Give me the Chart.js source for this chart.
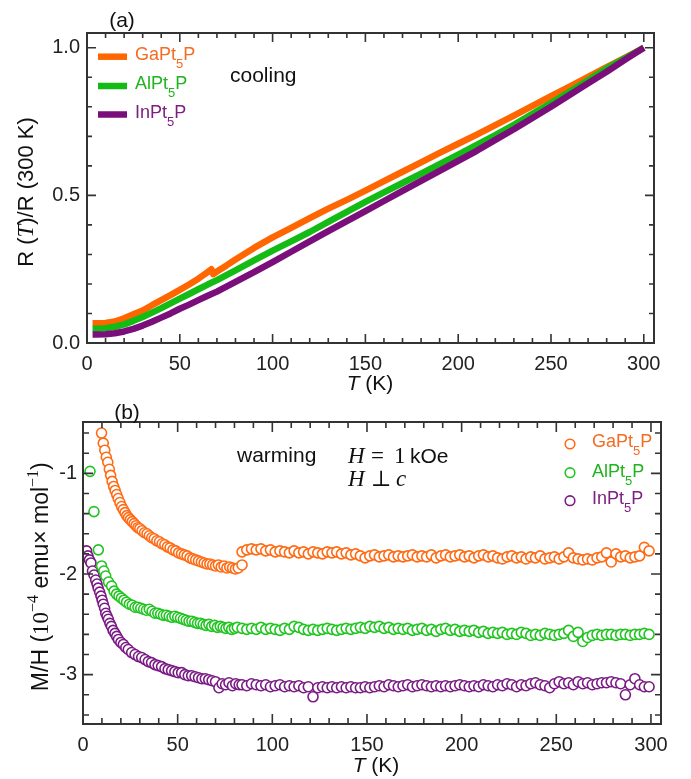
<!DOCTYPE html>
<html>
<head>
<meta charset="utf-8">
<title>R(T) and M/H of XPt5P</title>
<script src="https://cdn.jsdelivr.net/npm/chart.js@4.4.0/dist/chart.umd.min.js"></script>
<style>
  html, body { margin: 0; padding: 0; background: #fff; }
  #wrap { position: relative; width: 691px; height: 779px; overflow: hidden; }
  canvas { position: absolute; left: 0; }
  #resChart { top: 0; }
  #magChart { top: 398px; }
</style>
</head>
<body>
<div id="wrap">
  <canvas id="resChart" width="691" height="398"></canvas>
  <canvas id="magChart" width="691" height="381"></canvas>
</div>
<script>
// ==========================
// FONTS & COLOURS
// ==========================
const SANS = '"Liberation Sans", Arial, Helvetica, sans-serif';
const SERIF = '"Liberation Serif", "Times New Roman", serif';
const AXIS = "#333";

const names = ["GaPt", "AlPt", "InPt"];
const lineColors = ["#ff6600", "#14bb14", "#7a0e7a"];
const textColors = ["#f36c21", "#1db41d", "#7d1f80"];
const dotColors = ["#ff6a13", "#22c422", "#7a1a85"];

// ==========================
// PANEL (a) DATA : R(T)/R(300 K), cooling
// ==========================
const gaResT = [3, 5, 10, 15, 20, 25, 30, 35, 40, 45, 50, 55, 60, 65, 67, 68, 70, 75, 80,
  90, 100, 110, 120, 130, 140, 150, 160, 170, 180, 190, 200, 210, 220, 230, 240, 250, 260, 270, 280, 290, 300];
const gaRes = [0.067, 0.067, 0.068, 0.073, 0.084, 0.097, 0.11, 0.128, 0.145, 0.162, 0.18, 0.198, 0.218, 0.24, 0.25, 0.233, 0.242, 0.262, 0.283,
  0.322, 0.358, 0.39, 0.423, 0.455, 0.485, 0.516, 0.548, 0.58, 0.612, 0.644, 0.675, 0.706, 0.738, 0.77, 0.803, 0.836, 0.868, 0.901, 0.934, 0.967, 1.0];

const resT = [3, 5, 10, 15, 20, 25, 30, 35, 40, 45, 50, 55, 60, 65, 70,
  80, 90, 100, 110, 120, 130, 140, 150, 160, 170, 180, 190, 200, 210, 220, 230, 240, 250, 260, 270, 280, 290, 300];
const alRes = [0.048, 0.048, 0.05, 0.055, 0.063, 0.075, 0.088, 0.103, 0.118, 0.134, 0.15, 0.166, 0.182, 0.198, 0.213,
  0.246, 0.28, 0.313, 0.344, 0.376, 0.41, 0.444, 0.478, 0.51, 0.542, 0.574, 0.606, 0.638, 0.671, 0.704, 0.739, 0.776, 0.813, 0.851, 0.89, 0.93, 0.965, 1.0];
const inRes = [0.029, 0.029, 0.03, 0.033, 0.039, 0.048, 0.059, 0.072, 0.086, 0.1, 0.116, 0.13, 0.145, 0.16, 0.174,
  0.207, 0.24, 0.274, 0.309, 0.344, 0.379, 0.413, 0.447, 0.481, 0.515, 0.549, 0.583, 0.617, 0.651, 0.688, 0.724, 0.762, 0.8, 0.84, 0.88, 0.919, 0.96, 1.0];

const resXTicks = [0, 50, 100, 150, 200, 250, 300];
const resYTicks = [0, 0.5, 1.0];

// ==========================
// PANEL (b) DATA : M/H (1e-4 emu/mol), warming, H = 1 kOe
// ==========================
const gaLowT = [9.8, 10.7, 11.5, 12.3, 13.1, 13.9, 14.6, 15.4, 16.2, 17, 17.8, 18.6, 19.5, 20.4, 21.3, 22.2, 23.1, 24, 25, 26,
  27, 28, 29, 30, 31.2, 32.5, 33.8, 35, 36.3, 37.6, 39, 40.4, 41.8, 43.2, 44.6, 46, 47.5, 49, 50.5, 52,
  53.5, 55, 56.5, 58, 59.5, 61, 62.5, 64, 65.5, 67, 68.5, 70, 71.5, 73, 74.5, 76, 77.5, 79, 80.5, 82, 84];
const gaLowM = [-0.60, -0.70, -0.77, -0.84, -0.89, -0.96, -1.02, -1.08, -1.13, -1.17, -1.21, -1.25, -1.29, -1.33, -1.36, -1.39, -1.42, -1.44, -1.46, -1.48,
  -1.50, -1.52, -1.54, -1.55, -1.57, -1.59, -1.60, -1.62, -1.64, -1.65, -1.67, -1.68, -1.70, -1.71, -1.73, -1.74, -1.76, -1.77, -1.79, -1.80,
  -1.81, -1.82, -1.84, -1.85, -1.86, -1.87, -1.88, -1.89, -1.90, -1.90, -1.91, -1.92, -1.91, -1.93, -1.92, -1.94, -1.93, -1.94, -1.95, -1.94, -1.91];

const alLowT = [3.7, 5.8, 8.1, 9.8, 11, 12, 13.5, 15.1, 16.4, 17.7, 19, 20.3, 21.6, 23, 24.5, 26, 27.5, 29, 30.5, 32,
  33.5, 35, 36.5, 38, 39.5, 41, 42.5, 44, 45.5, 47, 48.5, 50, 51.5, 53, 54.5, 56, 57.5, 59, 60.5, 62,
  63.5, 65, 66.5, 68, 69.5, 71, 72.5, 74, 75.5, 77, 78.5, 80, 81.5];
const alLowM = [-0.98, -1.38, -1.76, -1.92, -1.97, -2.02, -2.08, -2.12, -2.17, -2.20, -2.22, -2.24, -2.26, -2.28, -2.30, -2.31, -2.33, -2.33, -2.34, -2.35,
  -2.36, -2.35, -2.37, -2.39, -2.39, -2.40, -2.41, -2.41, -2.42, -2.43, -2.42, -2.43, -2.44, -2.45, -2.46, -2.47, -2.47, -2.48, -2.49, -2.49,
  -2.50, -2.51, -2.50, -2.52, -2.51, -2.53, -2.52, -2.53, -2.54, -2.53, -2.55, -2.54, -2.53];

const inLowT = [1.9, 2.6, 3.4, 4.2, 5, 5.8, 6.7, 7.4, 8, 8.8, 9.5, 10.1, 10.7, 11.4, 12, 12.7, 13.4, 14.2, 15, 15.9,
  16.9, 17.8, 18.7, 20, 21.3, 22.6, 23.9, 25.7, 27.5, 29.3, 31, 32.8, 34.5, 36.2, 38, 39.7, 41.5, 43.3, 45, 46.8,
  48.5, 50.3, 52.1, 53.8, 55.6, 57.4, 59.2, 61, 62.8, 64.6, 66.4, 68.2, 70, 71.8, 73.5, 75.3, 77.1, 78.9, 80.7, 82.5];
const inLowM = [-1.77, -1.82, -1.86, -1.89, -1.97, -2.01, -2.06, -2.10, -2.14, -2.18, -2.22, -2.26, -2.30, -2.34, -2.39, -2.42, -2.45, -2.49, -2.52, -2.56,
  -2.59, -2.62, -2.65, -2.68, -2.70, -2.73, -2.75, -2.78, -2.80, -2.82, -2.83, -2.85, -2.87, -2.88, -2.90, -2.91, -2.92, -2.94, -2.95, -2.96,
  -2.97, -2.98, -2.98, -3.00, -3.01, -3.01, -3.02, -3.03, -3.04, -3.04, -3.05, -3.06, -3.07, -3.13, -3.09, -3.10, -3.08, -3.11, -3.09, -3.10];

// temperatures of the flat part, shared by the three samples
const flatT = [84, 86.5, 89, 91.5, 94, 96.5, 99, 101.5, 104, 106.5,
  109, 111.5, 114, 116.5, 119, 121.5, 124, 126.5, 129, 131.5,
  134, 136.5, 139, 141.5, 144, 146.5, 149, 151.5, 154, 156.5,
  159, 161.5, 164, 166.5, 169, 171.5, 174, 176.5, 179, 181.5,
  184, 186.5, 189, 191.5, 194, 196.5, 199, 201.5, 204, 206.5,
  209, 211.5, 214, 216.5, 219, 221.5, 224, 226.5, 229, 231.5,
  234, 236.5, 239, 241.5, 244, 246.5, 249, 251.5, 254, 256.5,
  259, 261.5, 264, 266.5, 269, 271.5, 274, 276.5, 279, 281.5,
  284, 286.5, 289, 291.5, 294, 296.5, 299];
const gaFlatM = [-1.78, -1.76, -1.75, -1.76, -1.75, -1.77, -1.76, -1.78, -1.77, -1.78,
  -1.79, -1.77, -1.79, -1.78, -1.80, -1.78, -1.79, -1.80, -1.78, -1.79,
  -1.78, -1.80, -1.79, -1.81, -1.80, -1.82, -1.84, -1.82, -1.81, -1.83,
  -1.82, -1.81, -1.83, -1.82, -1.83, -1.82, -1.81, -1.83, -1.82, -1.83,
  -1.81, -1.84, -1.82, -1.81, -1.83, -1.82, -1.81, -1.83, -1.82, -1.84,
  -1.82, -1.81, -1.83, -1.82, -1.84, -1.85, -1.83, -1.82, -1.84, -1.83,
  -1.85, -1.83, -1.84, -1.82, -1.85, -1.84, -1.83, -1.85, -1.83, -1.79,
  -1.84, -1.85, -1.86, -1.85, -1.86, -1.84, -1.83, -1.79, -1.88, -1.80,
  -1.83, -1.82, -1.84, -1.83, -1.82, -1.735, -1.77];
const alFlatM = [-2.54, -2.55, -2.54, -2.55, -2.53, -2.55, -2.54, -2.55, -2.56, -2.54,
  -2.55, -2.52, -2.53, -2.55, -2.56, -2.55, -2.56, -2.55, -2.54, -2.55,
  -2.56, -2.55, -2.54, -2.55, -2.54, -2.53, -2.54, -2.52, -2.53, -2.52,
  -2.54, -2.53, -2.55, -2.54, -2.55, -2.54, -2.56, -2.55, -2.54, -2.56,
  -2.55, -2.57, -2.55, -2.54, -2.56, -2.55, -2.57, -2.56, -2.57, -2.56,
  -2.58, -2.57, -2.59, -2.58, -2.59, -2.58, -2.60, -2.59, -2.60, -2.58,
  -2.59, -2.61, -2.60, -2.61, -2.59, -2.60, -2.61, -2.60, -2.59, -2.56,
  -2.62, -2.58, -2.67, -2.63, -2.61, -2.60, -2.61, -2.60, -2.60, -2.61,
  -2.60, -2.60, -2.61, -2.60, -2.60, -2.59, -2.60];
const inFlatM = [-3.10, -3.11, -3.09, -3.10, -3.11, -3.10, -3.12, -3.11, -3.10, -3.12,
  -3.11, -3.12, -3.11, -3.13, -3.12, -3.22, -3.13, -3.12, -3.13, -3.12,
  -3.13, -3.12, -3.13, -3.12, -3.13, -3.13, -3.12, -3.13, -3.12, -3.11,
  -3.12, -3.10, -3.11, -3.12, -3.11, -3.10, -3.12, -3.11, -3.10, -3.11,
  -3.12, -3.11, -3.12, -3.11, -3.12, -3.11, -3.10, -3.11, -3.12, -3.11,
  -3.12, -3.10, -3.11, -3.12, -3.10, -3.11, -3.09, -3.10, -3.12, -3.10,
  -3.11, -3.09, -3.08, -3.10, -3.11, -3.13, -3.09, -3.07, -3.09, -3.08,
  -3.10, -3.07, -3.09, -3.08, -3.10, -3.09, -3.08, -3.08, -3.07, -3.08,
  -3.09, -3.20, -3.10, -3.04, -3.10, -3.12, -3.12];

const magXTicks = [0, 50, 100, 150, 200, 250, 300];
const magYTicks = [-3, -2, -1];

// ==========================
// HELPERS
// ==========================
const pts = (xs, ys) => xs.map((x, i) => ({ x: x, y: ys[i] }));

// draw a run of text pieces: [text, font, dy]
function drawRun(ctx, pieces, x, y, color, align) {
  let w = 0;
  pieces.forEach(p => { ctx.font = p[1]; w += ctx.measureText(p[0]).width; });
  let cx = align === "center" ? x - w / 2 : x;
  ctx.fillStyle = color;
  ctx.textAlign = "left";
  pieces.forEach(p => {
    ctx.font = p[1];
    ctx.fillText(p[0], cx, y + (p[2] || 0));
    cx += ctx.measureText(p[0]).width;
  });
}

// sample name with subscript 5, e.g. GaPt_5 P
function sampleName(ctx, name, x, y, size, color) {
  const f = size + "px " + SANS;
  const fs = Math.round(size * 0.72) + "px " + SANS;
  drawRun(ctx, [[name, f], ["5", fs, size * 0.45], ["P", f]], x, y, color);
}

// frame with inward major/minor ticks on all four sides
const frameTicks = {
  id: "frameTicks",
  afterDatasetsDraw(chart, args, o) {
    const { ctx, chartArea: a } = chart;
    const sx = chart.scales.x, sy = chart.scales.y;
    ctx.save();
    ctx.strokeStyle = AXIS;
    ctx.lineWidth = 1.6;
    const each = (axis, step, major, fn) => {
      const n0 = Math.ceil(axis.min / step - 1e-9);
      const n1 = Math.floor(axis.max / step + 1e-9);
      for (let i = n0; i <= n1; i++) {
        const v = i * step;
        const big = Math.abs(v / major - Math.round(v / major)) < 1e-6;
        fn(axis.getPixelForValue(v), big ? o.major : o.minor);
      }
    };
    ctx.beginPath();
    each(sx, o.xStep, o.xMajor, (p, len) => {
      ctx.moveTo(p, a.bottom); ctx.lineTo(p, a.bottom - len);
      ctx.moveTo(p, a.top); ctx.lineTo(p, a.top + len);
    });
    each(sy, o.yStep, o.yMajor, (p, len) => {
      ctx.moveTo(a.left, p); ctx.lineTo(a.left + len, p);
      ctx.moveTo(a.right, p); ctx.lineTo(a.right - len, p);
    });
    ctx.stroke();
    ctx.lineWidth = 2;
    ctx.strokeRect(a.left, a.top, a.right - a.left, a.bottom - a.top);
    ctx.restore();
  }
};

function axisOpts(min, max, tickVals, fmt, pad, fit) {
  return {
    type: "linear", min: min, max: max,
    grid: { display: false, drawTicks: false }, border: { display: false },
    ticks: { font: { family: SANS, size: 20 }, color: "#222", padding: pad, maxRotation: 0, callback: fmt },
    afterBuildTicks: s => { s.ticks = tickVals.map(v => ({ value: v })); },
    afterFit: fit
  };
}

// ==========================
// PANEL (a)
// ==========================
const resNotes = {
  id: "resNotes",
  afterDraw(chart) {
    const ctx = chart.ctx;
    ctx.save();
    ctx.textBaseline = "alphabetic";
    // panel label
    drawRun(ctx, [["(a)", "21px " + SANS]], 122, 27, "#111", "center");
    // legend
    const ly = [56.7, 86, 114.5];
    const ty = [60, 89.3, 118];
    names.forEach((n, i) => {
      ctx.strokeStyle = lineColors[i];
      ctx.lineWidth = 6.5;
      ctx.beginPath(); ctx.moveTo(98, ly[i]); ctx.lineTo(127, ly[i]); ctx.stroke();
      sampleName(ctx, n, 135, ty[i], 18, textColors[i]);
    });
    drawRun(ctx, [["cooling", "21px " + SANS]], 230, 81.5, "#111");
    // x title
    drawRun(ctx, [["T", "italic 21px " + SANS], [" (K)", "21px " + SANS]], 370, 390, "#111", "center");
    // y title
    ctx.translate(33, 192);
    ctx.rotate(-Math.PI / 2);
    drawRun(ctx, [["R (", "22px " + SANS], ["T", "italic 23px " + SERIF], [")/R (300 K)", "22px " + SANS]], 0, 0, "#111", "center");
    ctx.restore();
  }
};

new Chart(document.getElementById("resChart"), {
  type: "line",
  data: {
    datasets: [
      { label: "InPt5P", data: pts(resT, inRes), borderColor: lineColors[2], order: 1 },
      { label: "AlPt5P", data: pts(resT, alRes), borderColor: lineColors[1], order: 2 },
      { label: "GaPt5P", data: pts(gaResT, gaRes), borderColor: lineColors[0], order: 3 }
    ]
  },
  options: {
    responsive: false, animation: false, events: [],
    layout: { padding: { left: 0, top: 33, right: 37, bottom: 0 } },
    elements: {
      point: { radius: 0 },
      line: { borderWidth: 6.5, tension: 0, fill: false, borderJoinStyle: "round", borderCapStyle: "butt" }
    },
    plugins: {
      legend: { display: false }, tooltip: { enabled: false },
      frameTicks: { xStep: 10, xMajor: 50, yStep: 0.1, yMajor: 0.5, major: 9, minor: 5 }
    },
    scales: {
      x: axisOpts(0, 305.5, resXTicks, v => String(v), 9, s => { s.height = 55; }),
      y: axisOpts(0, 1.05, resYTicks, v => v.toFixed(1), 7, s => { s.width = 87; })
    }
  },
  plugins: [frameTicks, resNotes]
});

// ==========================
// PANEL (b)
// ==========================
const magNotes = {
  id: "magNotes",
  afterDraw(chart) {
    const ctx = chart.ctx;
    ctx.save();
    ctx.textBaseline = "alphabetic";
    drawRun(ctx, [["(b)", "21px " + SANS]], 127, 20.5, "#111", "center");
    drawRun(ctx, [["warming", "21px " + SANS]], 237, 63.7, "#111");
    // field annotation
    drawRun(ctx, [["H", "italic 23px " + SERIF]], 348, 65.3, "#111");
    drawRun(ctx, [["=", "23px " + SERIF]], 371, 65.3, "#111");
    drawRun(ctx, [["1", "23px " + SERIF]], 394, 65.3, "#111");
    drawRun(ctx, [["kOe", "21px " + SANS]], 410, 65.3, "#111");
    drawRun(ctx, [["H", "italic 23px " + SERIF]], 348, 88, "#111");
    drawRun(ctx, [["\u22A5", "22px " + "\"DejaVu Serif\", serif"]], 371, 88, "#111");
    drawRun(ctx, [["c", "italic 23px " + SERIF]], 396, 88, "#111");
    // legend
    const cy = [46, 74.7, 102.7];
    const ty = [48.7, 78.7, 106];
    names.forEach((n, i) => {
      ctx.strokeStyle = dotColors[i];
      ctx.lineWidth = 1.6;
      ctx.beginPath(); ctx.arc(570, cy[i], 4.8, 0, Math.PI * 2); ctx.stroke();
      sampleName(ctx, n, 592, ty[i], 18, textColors[i]);
    });
    // x title
    drawRun(ctx, [["T", "italic 21px " + SANS], [" (K)", "21px " + SANS]], 376, 373.7, "#111", "center");
    // y title
    ctx.translate(48, 178.7);
    ctx.rotate(-Math.PI / 2);
    drawRun(ctx, [
      ["M/H (", "23px " + SANS],
      ["10", "23px " + SERIF],
      ["\u22124", "16px " + SERIF, -10],
      [" emu\u00D7 mol", "23px " + SANS],
      ["\u22121", "16px " + SERIF, -10],
      [")", "23px " + SANS]
    ], 0, 0, "#111", "center");
    ctx.restore();
  }
};

const dotSet = (label, data, i) => ({
  label: label, data: data,
  pointStyle: "circle", pointRadius: 5, pointBorderWidth: 1.6,
  pointBorderColor: dotColors[i], pointBackgroundColor: "#fff", showLine: false
});

new Chart(document.getElementById("magChart"), {
  type: "scatter",
  data: {
    datasets: [
      dotSet("GaPt5P", pts(gaLowT, gaLowM).concat(pts(flatT, gaFlatM)), 0),
      dotSet("AlPt5P", pts(alLowT, alLowM).concat(pts(flatT, alFlatM)), 1),
      dotSet("InPt5P", pts(inLowT, inLowM).concat(pts(flatT, inFlatM)), 2)
    ]
  },
  options: {
    responsive: false, animation: false, events: [],
    layout: { padding: { left: 0, top: 24, right: 30, bottom: 0 } },
    plugins: {
      legend: { display: false }, tooltip: { enabled: false },
      frameTicks: { xStep: 10, xMajor: 50, yStep: 0.2, yMajor: 1, major: 10, minor: 6 }
    },
    scales: {
      x: axisOpts(0, 305.3, magXTicks, v => String(v), 9, s => { s.height = 55; }),
      y: axisOpts(-3.49, -0.49, magYTicks, v => String(v), 6, s => { s.width = 83; })
    }
  },
  plugins: [frameTicks, magNotes]
});
</script>
</body>
</html>
